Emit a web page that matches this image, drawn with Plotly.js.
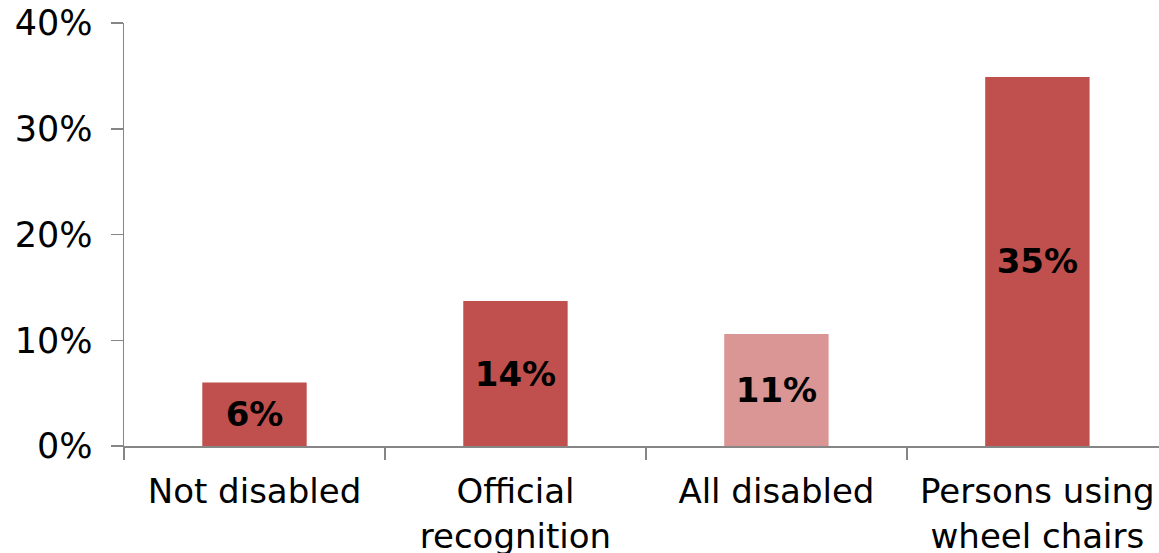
<!DOCTYPE html>
<html>
<head>
<meta charset="utf-8">
<script src="https://cdn.plot.ly/plotly-3.0.1.min.js"></script>
<style>html,body{margin:0;padding:0;background:#fff;}#chart{width:1159px;height:553px;}</style>
</head>
<body>
<div id="chart"></div>
<script>
const categories = ["Not disabled", "Official<br>recognition", "All disabled", "Persons using<br>wheel chairs"];
const values = [0.060, 0.137, 0.106, 0.349];
const barColors = ["#C0504D", "#C0504D", "#D99694", "#C0504D"];

const trace = {
  type: "bar",
  x: categories,
  y: values,
  width: 0.4,
  marker: {color: barColors, line: {width: 0}},
  texttemplate: "%{y:.0%}",
  textposition: "inside",
  insidetextanchor: "middle",
  textangle: 0,
  textfont: {family: "DejaVu Sans", size: 34, color: "#000", weight: "bold"},
  hoverinfo: "none"
};

const layout = {
  width: 1159, height: 553,
  margin: {l: 124, r: 0, t: 23, b: 107},
  paper_bgcolor: "#fff", plot_bgcolor: "#fff",
  showlegend: false,
  font: {family: "DejaVu Sans", size: 34, color: "#000"},
  xaxis: {
    type: "category",
    range: [-0.5, 3.466],
    tickson: "boundaries",
    ticks: "outside", ticklen: 12, tickwidth: 1.5, tickcolor: "#868686",
    showline: true, linecolor: "#868686", linewidth: 1.5,
    showgrid: false, zeroline: false,
    ticklabelstandoff: 15,
    tickfont: {family: "DejaVu Sans", size: 34, color: "#000"}
  },
  yaxis: {
    range: [0, 0.4],
    dtick: 0.1, tick0: 0,
    tickformat: ".0%",
    ticks: "outside", ticklen: 12, tickwidth: 1.5, tickcolor: "#868686",
    showline: true, linecolor: "#868686", linewidth: 1.5,
    showgrid: false, zeroline: false,
    ticklabelstandoff: 11,
    tickfont: {family: "DejaVu Sans", size: 35, color: "#000"}
  }
};

Plotly.newPlot("chart", [trace], layout, {staticPlot: true, displayModeBar: false});
</script>
</body>
</html>
